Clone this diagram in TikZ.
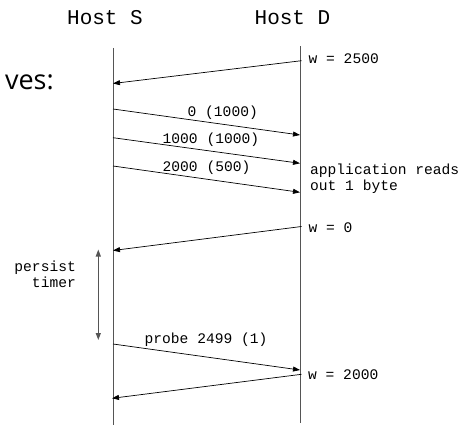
\documentclass[tikz,border=0pt]{standalone}
\usepackage{fontspec}
\setmonofont{Liberation Mono}
\newfontfamily\headsans{Open Sans}
\usetikzlibrary{arrows.meta}
\definecolor{lifegray}{HTML}{555555}
\tikzset{
  lifeline/.style={draw=lifegray, line width=0.9pt},
  msg/.style={draw=black, line width=0.7pt, -{Triangle[length=7pt,width=5pt]}},
  timer/.style={draw=lifegray, line width=1.1pt, {Triangle[length=7pt,width=5pt]}-{Triangle[length=7pt,width=5pt]}},
  hostlabel/.style={inner sep=0pt, anchor=base, font=\ttfamily\fontsize{21}{24}\selectfont},
  lbl/.style={inner sep=0pt, anchor=base west, font=\ttfamily\fontsize{14.6}{15.7}\selectfont},
}
\begin{document}
\begin{tikzpicture}[x=1pt, y=-1pt]
\useasboundingbox (0,0) rectangle (460,425);

% column headings
\node[hostlabel] (hs) at (105,25) {Host S};
\node[hostlabel] (hd) at (292.5,25) {Host D};

% partial slide text on the left
\node[inner sep=0pt, anchor=base east, font=\headsans\fontsize{27}{30}\selectfont] (ves) at (54,90) {ves:};

% lifelines
\coordinate (stop) at (113,48);
\coordinate (sbot) at (113,425);
\coordinate (dtop) at (300,46.5);
\coordinate (dbot) at (300,423);
\draw[lifeline] (stop) -- (sbot);
\draw[lifeline] (dtop) -- (dbot);

% message end points
\coordinate (d1) at (301.5,60.7);  \coordinate (s1) at (113,83.5);
\coordinate (s2) at (113,109);     \coordinate (d2) at (300,135);
\coordinate (s3) at (113,137.7);   \coordinate (d3) at (300,163.3);
\coordinate (s4) at (113,166);     \coordinate (d4) at (300,192.3);
\coordinate (d5) at (301.5,226.5); \coordinate (s5) at (113,250.5);
\coordinate (s6) at (113,344);     \coordinate (d6) at (300,370);
\coordinate (d7) at (301.5,374.3); \coordinate (s7) at (112,398.3);

% messages
\draw[msg] (d1) -- (s1);
\draw[msg] (s2) -- (d2);
\draw[msg] (s3) -- (d3);
\draw[msg] (s4) -- (d4);
\draw[msg] (d5) -- (s5);
\draw[msg] (s6) -- (d6);
\draw[msg] (d7) -- (s7);

% persist timer interval
\coordinate (ptop) at (98.3,249.5);
\coordinate (pbot) at (98.3,340);
\draw[timer] (ptop) -- (pbot);

% labels
\node[lbl] (w2500) at (308.5,63.3) {w = 2500};
\node[lbl] (seg0) at (187.5,116.7) {0 (1000)};
\node[lbl] (seg1) at (162.5,143.3) {1000 (1000)};
\node[lbl] (seg2) at (162.5,171.7) {2000 (500)};
\node[lbl, align=left] (app) at (310,190) {application reads\\out 1 byte};
\node[lbl] (w0) at (308.5,232) {w = 0};
\node[lbl, anchor=base east, align=right] (pers) at (76,287) {persist\\timer};
\node[lbl] (probe) at (144.5,343.3) {probe 2499 (1)};
\node[lbl] (w2000) at (308,379.3) {w = 2000};
\end{tikzpicture}
\end{document}
